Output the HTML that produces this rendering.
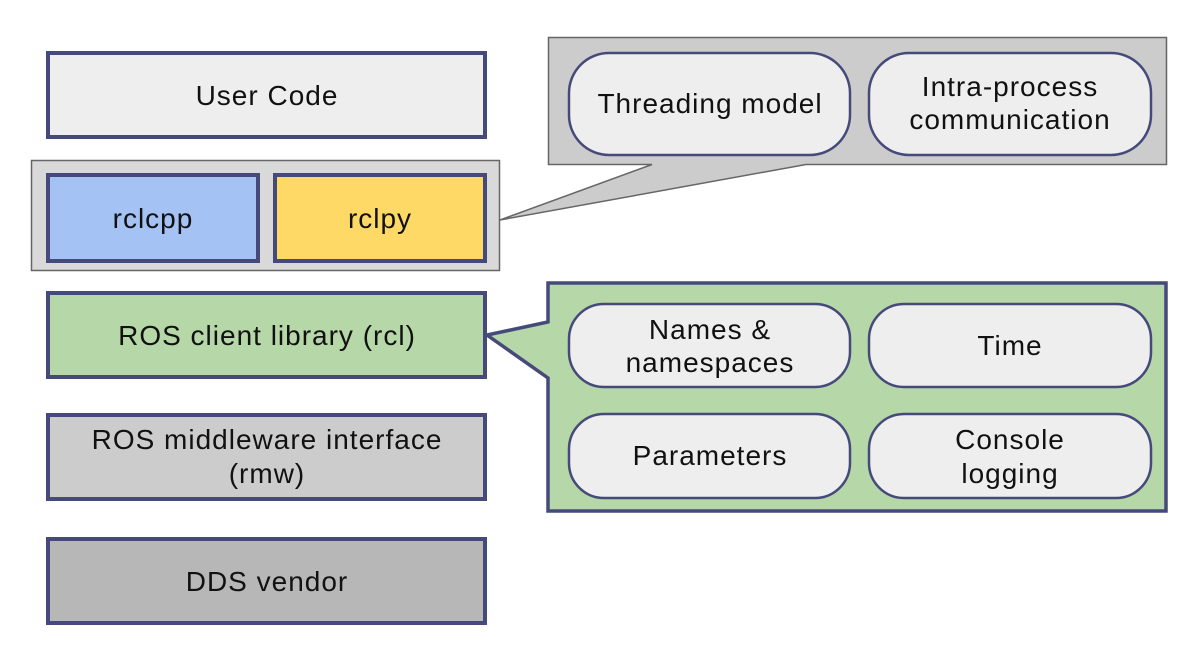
<!DOCTYPE html>
<html><head><meta charset="utf-8"><style>
html,body{margin:0;padding:0;background:#fff;}
text{font-family:"Liberation Sans","DejaVu Sans",sans-serif;font-size:28px;letter-spacing:1px;fill:#111;text-anchor:middle;}
</style></head><body>
<svg width="1189" height="646" viewBox="0 0 1189 646" xmlns="http://www.w3.org/2000/svg">
<g stroke="#454a7a" stroke-width="4">
<rect x="48" y="53" width="437" height="84" fill="#eeeeee"/>
</g>
<text x="267" y="105">User Code</text>
<rect x="31.5" y="160.5" width="468" height="110" fill="#d9d9d9" stroke="#666" stroke-width="1.5"/>
<g stroke="#454a7a" stroke-width="4">
<rect x="48" y="175" width="210" height="86" fill="#a4c2f4"/>
<rect x="275" y="175" width="210" height="86" fill="#ffd966"/>
<rect x="48" y="293" width="437" height="84" fill="#b6d7a8"/>
<rect x="48" y="415" width="437" height="84" fill="#cccccc"/>
<rect x="48" y="539" width="437" height="84" fill="#b7b7b7"/>
</g>
<text x="153" y="228">rclcpp</text>
<text x="380" y="228">rclpy</text>
<text x="267" y="345">ROS client library (rcl)</text>
<text x="267" y="449">ROS middleware interface</text>
<text x="267" y="483">(rmw)</text>
<text x="267" y="591">DDS vendor</text>

<path d="M548.5 37.5 H1166.5 V164.5 H806 L500 220 L652 164.5 H548.5 Z" fill="#cccccc" stroke="#666" stroke-width="1.5"/>
<path d="M548 283 H1166 V511 H548 V378 L487 335 L548 322 Z" fill="#b6d7a8" stroke="#454a7a" stroke-width="3.5"/>

<g fill="#eeeeee" stroke="#454a7a" stroke-width="2.5">
<rect x="569" y="53" width="281" height="102" rx="40"/>
<rect x="869" y="53" width="282" height="102" rx="40"/>
<rect x="569" y="304" width="281" height="83" rx="35"/>
<rect x="869" y="304" width="282" height="83" rx="35"/>
<rect x="569" y="414" width="281" height="84" rx="35"/>
<rect x="869" y="414" width="282" height="84" rx="35"/>
</g>
<text x="710" y="113">Threading model</text>
<text x="1010" y="96">Intra-process</text>
<text x="1010" y="129">communication</text>
<text x="710" y="339">Names &amp;</text>
<text x="710" y="372">namespaces</text>
<text x="1010" y="355">Time</text>
<text x="710" y="465">Parameters</text>
<text x="1010" y="449">Console</text>
<text x="1010" y="483">logging</text>
</svg>
</body></html>
